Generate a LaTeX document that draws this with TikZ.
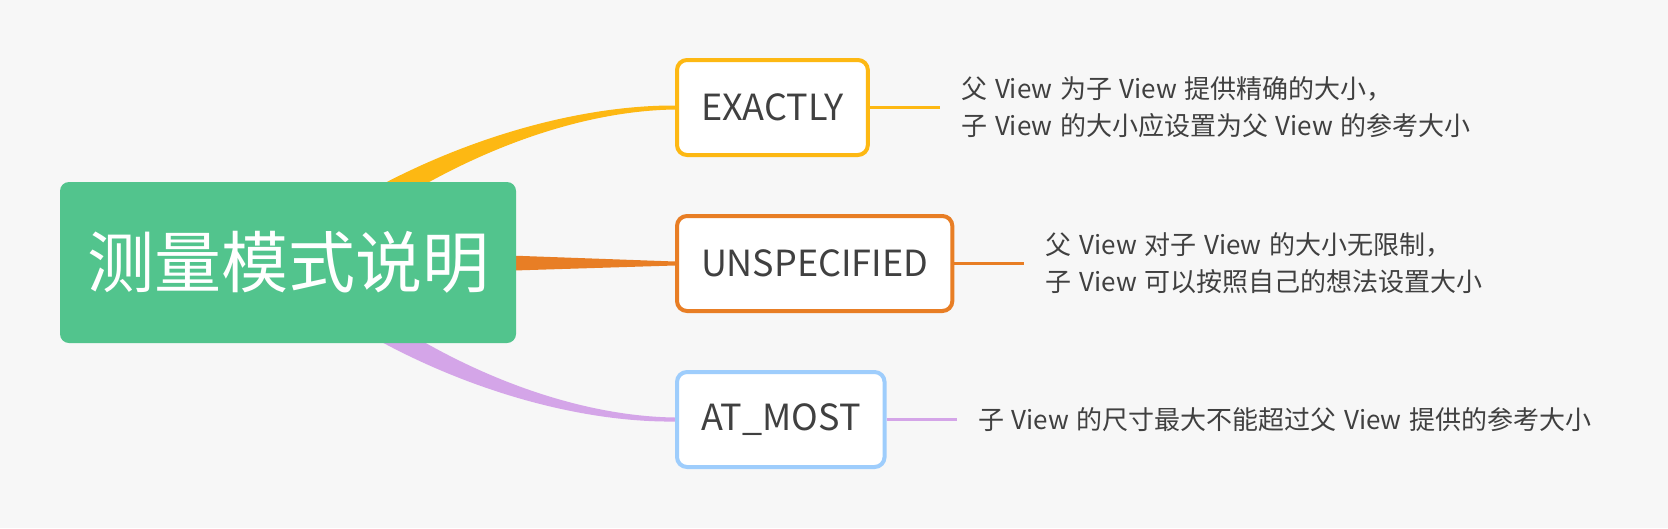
\documentclass[tikz,border=0pt]{standalone}
\usepackage{fontspec}
\setmainfont{Noto Sans CJK SC}
\newfontfamily\notefont{Noto Sans CJK SC}[WordSpace=1.3]
\usetikzlibrary{positioning,calc,backgrounds}

\definecolor{bggray}{RGB}{247,247,247}
\definecolor{rootgreen}{RGB}{82,196,141}
\definecolor{exactyellow}{RGB}{253,184,19}
\definecolor{unspecorange}{RGB}{232,126,37}
\definecolor{atmostblue}{RGB}{158,205,252}
\definecolor{atmostpurple}{RGB}{212,165,232}
\definecolor{textgray}{RGB}{64,64,64}

\def\linelen{70pt}

\begin{document}
\begin{tikzpicture}[x=1pt,y=-1pt,line width=3.2pt]
    \tikzstyle{topic}=[rectangle,rounded corners=9pt,fill=rootgreen,text=white,minimum width=456pt,minimum height=161pt,inner sep=0pt,font=\fontsize{67}{80}\selectfont]
    \tikzstyle{mode}=[rectangle,rounded corners=10pt,draw,line width=4pt,fill=white,text=textgray,minimum height=95pt,inner xsep=24pt,anchor=west,font=\fontsize{36}{44}\selectfont]
    \tikzstyle{note}=[anchor=west,inner sep=0pt,align=left,text=textgray,font=\notefont\fontsize{26}{37}\selectfont]

    \useasboundingbox (0,0) rectangle (1668,528);

    % Draw the root topic
    \node[topic] (root) at (288,262.5) {测量模式说明};

    % Draw the three modes
    \node[mode,draw=exactyellow] (exactly) at (675,107.5) {EXACTLY};
    \node[mode,draw=unspecorange,below=57pt of exactly.south west,anchor=north west] (unspecified) {UNSPECIFIED};
    \node[mode,draw=atmostblue,below=57pt of unspecified.south west,anchor=north west] (atmost) {AT\_MOST};

    % Notes on the right of each mode
    \coordinate[right=\linelen of exactly.east] (exactly-end);
    \coordinate[right=\linelen of unspecified.east] (unspecified-end);
    \coordinate[right=\linelen of atmost.east] (atmost-end);
    \draw[exactyellow] (exactly.east) -- (exactly-end);
    \draw[unspecorange] (unspecified.east) -- (unspecified-end);
    \draw[atmostpurple] (atmost.east) -- (atmost-end);
    \node[note,right=20pt of exactly-end] (exactly-note) {父 View 为子 View 提供精确的大小，\\子 View 的大小应设置为父 View 的参考大小};
    \node[note,right=20pt of unspecified-end] (unspecified-note) {父 View 对子 View 的大小无限制，\\子 View 可以按照自己的想法设置大小};
    \node[note,right=20pt of atmost-end] (atmost-note) {子 View 的尺寸最大不能超过父 View 提供的参考大小};

    \begin{scope}[on background layer]
        \fill[bggray] (0,0) rectangle (1668,528);
        % Tapered branches from the root to the modes
        \fill[exactyellow] ($(root.center)+(-9.5,-11.6)$) .. controls ($(root.center)+(115.3,-108.6)$) and ($(exactly.west)+(-115,-2.5)$) .. ($(exactly.west)+(0,-2)$)
            -- ($(exactly.west)+(0,2)$) .. controls ($(exactly.west)+(-115,3.5)$) and ($(root.center)+(128.7,-92.4)$) .. ($(root.center)+(9.5,11.6)$) -- cycle;
        \fill[unspecorange] ($(root.center)+(0,-15)$) -- ($(unspecified.west)+(0,-2)$) -- ($(unspecified.west)+(0,2)$) -- ($(root.center)+(0,15)$) -- cycle;
        \fill[atmostpurple] ($(root.center)+(9.7,-11.4)$) .. controls ($(root.center)+(128.8,95.5)$) and ($(atmost.west)+(-115,-3.5)$) .. ($(atmost.west)+(0,-2)$)
            -- ($(atmost.west)+(0,2)$) .. controls ($(atmost.west)+(-115,3.5)$) and ($(root.center)+(115.2,111.5)$) .. ($(root.center)+(-9.7,11.4)$) -- cycle;
    \end{scope}
\end{tikzpicture}
\end{document}
